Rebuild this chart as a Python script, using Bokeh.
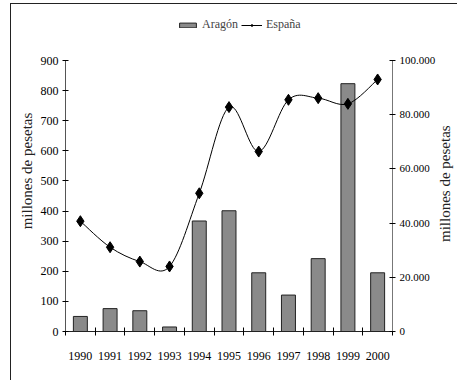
import math
import numpy as np
from bokeh.plotting import figure
from bokeh.layouts import row
from bokeh.models import Range1d, LinearAxis, FixedTicker, Legend, LegendItem, Div
from bokeh.embed import file_html
from bokeh.resources import INLINE

# ---- data ----
years = [1990, 1991, 1992, 1993, 1994, 1995, 1996, 1997, 1998, 1999, 2000]
year_labels = ["1990", "1991", "1992", "1993", "1994", "1995", "1996", "1997", "1998", "1999", "2000"]
aragon = [50, 76, 69, 15, 367, 401, 195, 121, 242, 823, 195]
espana = [40700, 31100, 25800, 24000, 51000, 82800, 66400, 85500, 86100, 84000, 93000]
left_ticks = [0, 100, 200, 300, 400, 500, 600, 700, 800, 900]
left_labels = ["0", "100", "200", "300", "400", "500", "600", "700", "800", "900"]
right_ticks = [0, 20000, 40000, 60000, 80000, 100000]
right_labels = ["0", "20.000", "40.000", "60.000", "80.000", "100.000"]
axis_title = "millones de pesetas"

FONT = "Liberation Serif"

# frame extends above the top tick to leave room for the legend
TOP_FRAC = 321.0 / 271.0
left_max = left_ticks[-1] * TOP_FRAC
right_max = right_ticks[-1] * TOP_FRAC

p = figure(width=427, height=374, output_backend="svg", toolbar_location=None,
           x_range=Range1d(years[0] - 0.5, years[-1] + 0.5),
           y_range=Range1d(0, left_max),
           min_border_left=54, min_border_right=43, min_border_top=6, min_border_bottom=47)
p.extra_y_ranges = {"right": Range1d(0, right_max)}
p.outline_line_color = None
p.xgrid.visible = False
p.ygrid.visible = False
p.background_fill_color = "white"
p.border_fill_color = "white"

# bars
bars = p.vbar(x=years, top=aragon, width=0.47, bottom=0,
              fill_color="#8a8a8a", line_color="#222222", line_width=1)

# smoothed line (Catmull-Rom style bezier through the data points)
xs = np.array(years, dtype=float)
ys = np.array(espana, dtype=float)
xp = np.concatenate([[xs[0]], xs, [xs[-1]]])
yp = np.concatenate([[ys[0]], ys, [ys[-1]]])
cx0 = xp[1:-2] + (xp[2:-1] - xp[0:-3]) / 6.0
cy0 = yp[1:-2] + (yp[2:-1] - yp[0:-3]) / 6.0
cx1 = xp[2:-1] - (xp[3:] - xp[1:-2]) / 6.0
cy1 = yp[2:-1] - (yp[3:] - yp[1:-2]) / 6.0
curve = p.bezier(x0=xs[:-1], y0=ys[:-1], x1=xs[1:], y1=ys[1:],
                 cx0=cx0, cy0=cy0, cx1=cx1, cy1=cy1,
                 line_color="black", line_width=1, y_range_name="right")
diamonds = p.scatter(x=years, y=espana, marker="diamond", size=11,
                     fill_color="black", line_color="black", y_range_name="right")

# x axis
xa = p.xaxis[0]
xa.ticker = FixedTicker(ticks=years, minor_ticks=[y - 0.5 for y in years] + [years[-1] + 0.5])
xa.major_label_overrides = {y: l for y, l in zip(years, year_labels)}
xa.major_tick_in = 0
xa.major_tick_out = 0
xa.minor_tick_in = 4
xa.minor_tick_out = 4
xa.minor_tick_line_color = "black"
xa.axis_line_color = "#222"
xa.major_label_standoff = 16
xa.major_label_text_font = FONT
xa.major_label_text_font_size = "12px"
xa.major_label_text_color = "black"

# left axis
ya = p.yaxis[0]
ya.ticker = FixedTicker(ticks=left_ticks)
ya.bounds = (left_ticks[0], left_ticks[-1])
ya.major_label_overrides = {t: l for t, l in zip(left_ticks, left_labels)}
ya.minor_tick_line_color = None
ya.major_tick_in = 3
ya.major_tick_out = 3
ya.axis_line_color = "#555"
ya.major_tick_line_color = "black"
ya.major_label_standoff = 4
ya.major_label_text_font = FONT
ya.major_label_text_font_size = "12px"
ya.major_label_text_color = "black"
ya.axis_label = axis_title
ya.axis_label_text_font = FONT
ya.axis_label_text_font_style = "normal"
ya.axis_label_text_font_size = "15px"
ya.axis_label_text_color = "#222"
ya.axis_label_standoff = 3

# right axis
ra = LinearAxis(y_range_name="right", ticker=FixedTicker(ticks=right_ticks))
ra.bounds = (right_ticks[0], right_ticks[-1])
ra.major_label_overrides = {t: l for t, l in zip(right_ticks, right_labels)}
ra.minor_tick_line_color = None
ra.major_tick_in = 3
ra.major_tick_out = 3
ra.axis_line_color = "#777"
ra.major_tick_line_color = "black"
ra.major_label_standoff = 4
ra.major_label_text_font = FONT
ra.major_label_text_font_size = "11px"
ra.major_label_text_color = "black"
p.add_layout(ra, "right")

# legend
legend = Legend(items=[LegendItem(label="Aragón", renderers=[bars]),
                       LegendItem(label="España", renderers=[curve, diamonds])],
                orientation="horizontal", location=(112, 299),
                border_line_color=None, background_fill_alpha=0,
                padding=0, margin=0, spacing=3, label_standoff=4,
                glyph_width=21, glyph_height=6,
                label_text_font=FONT, label_text_font_size="12px")
p.add_layout(legend)

# right-hand axis title, reading bottom to top
right_title = Div(text=axis_title, width=18, height=374,
                  styles={"writing-mode": "vertical-rl",
                          "transform": "translate(-6px, -12px) rotate(180deg)",
                          "text-align": "center", "font-family": FONT,
                          "font-size": "15px", "line-height": "17px", "color": "#222"})

layout = row(p, right_title, spacing=0)
layout.styles = {"border-left": "1px solid #222", "border-top": "1px solid #222",
                 "border-bottom": "1px solid #222", "margin-left": "10px",
                 "margin-top": "3px", "background": "white"}

open("out.html", "w").write(file_html(layout, INLINE))
